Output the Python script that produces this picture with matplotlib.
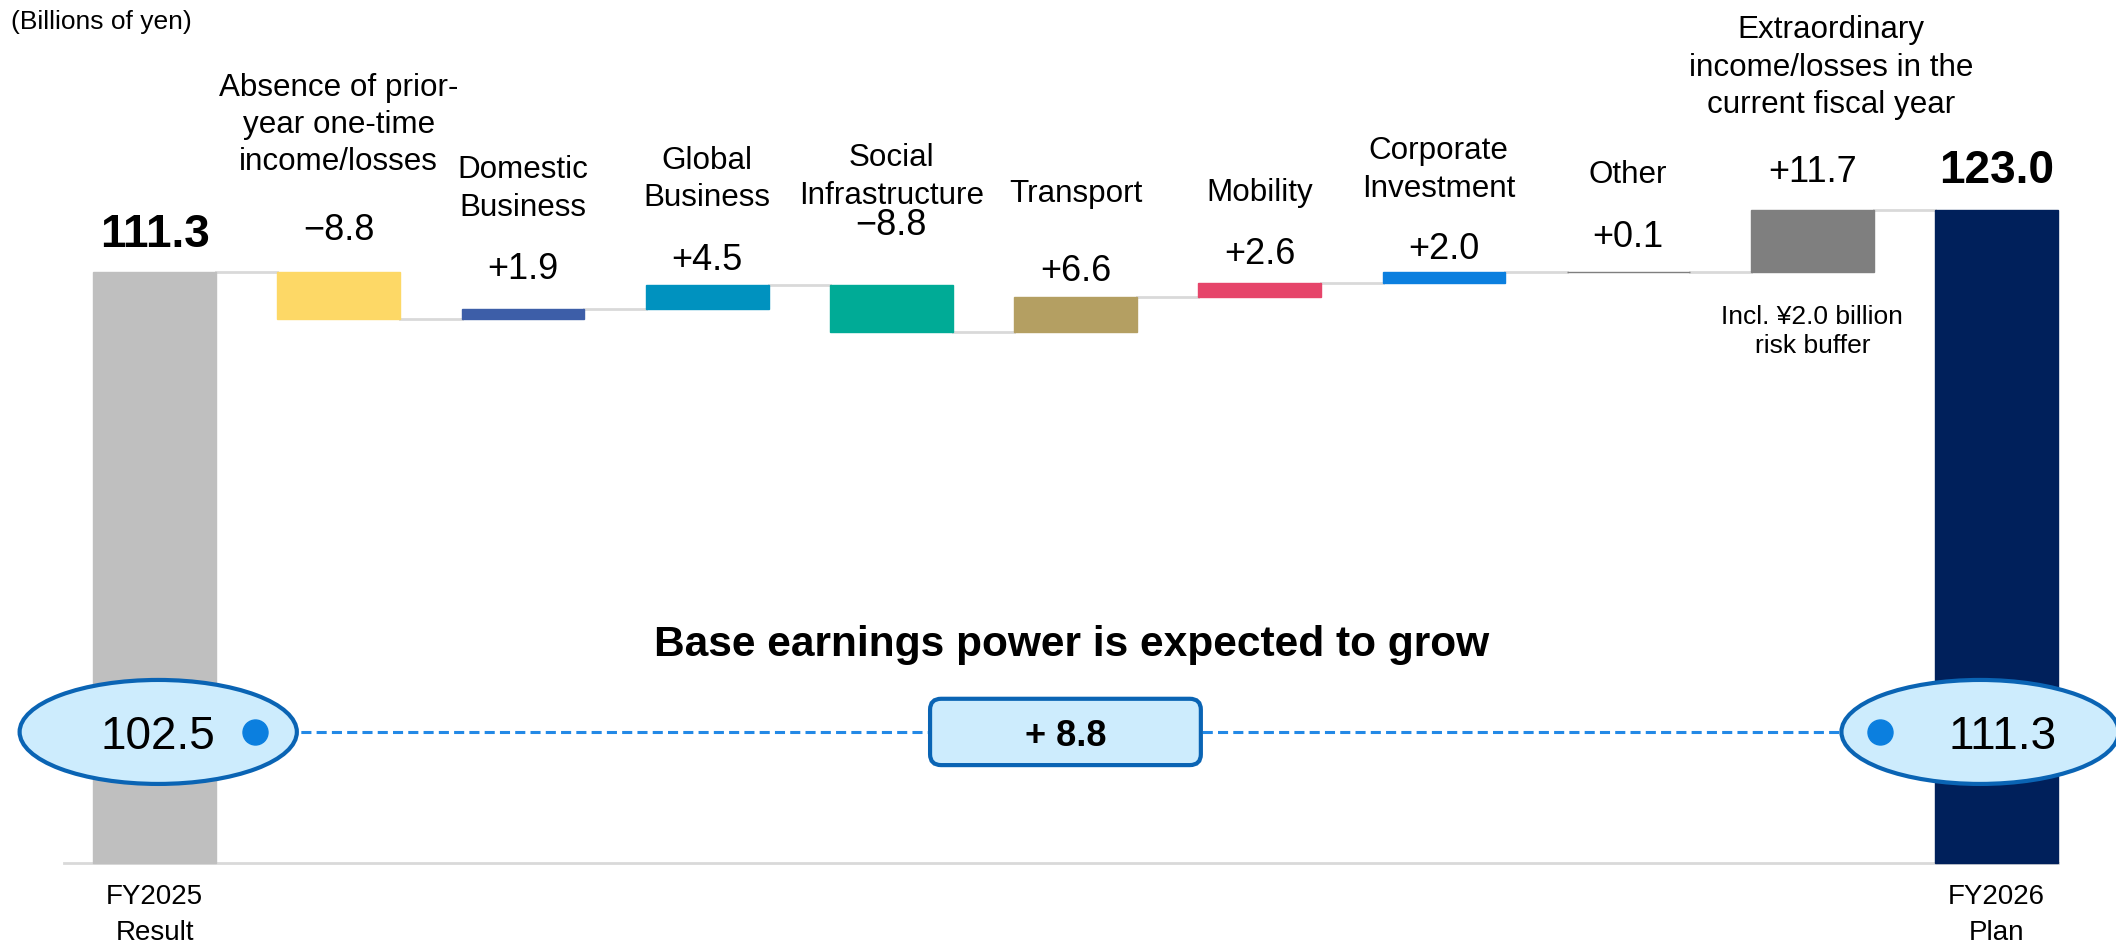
import matplotlib.pyplot as plt
import numpy as np
from matplotlib.patches import Ellipse, FancyBboxPatch

plt.rcParams['font.family'] = ['Liberation Sans', 'DejaVu Sans']

# --- data ---
start_label = "FY2025\nResult"
end_label = "FY2026\nPlan"
start_value = 111.3
end_value = 123.0
step_names = ["Absence of prior-\nyear one-time\nincome/losses",
              "Domestic\nBusiness",
              "Global\nBusiness",
              "Social\nInfrastructure",
              "Transport",
              "Mobility",
              "Corporate\nInvestment",
              "Other",
              "Extraordinary\nincome/losses in the\ncurrent fiscal year"]
step_changes = [-8.8, 1.9, 4.5, -8.8, 6.6, 2.6, 2.0, 0.1, 11.7]
base_before = 102.5
base_after = 111.3
note_text = "Incl. ¥2.0 billion\nrisk buffer"
unit_text = "(Billions of yen)"
headline = "Base earnings power is expected to grow"

# --- styles / layout ---
bar_colors = ["#bfbfbf", "#fdd866", "#3d5ea8", "#0092bf", "#00ab96", "#b49f62",
              "#e6456a", "#0b7fdf", "#7f7f7f", "#7f7f7f", "#00205b"]
value_label_y = [118.6, 119.4, 112.1, 113.8, 120.3, 111.6, 114.9, 115.9, 118.0, 130.3, 130.6]
name_label_y = [139.3, 127.2, 129.0, 129.5, 126.2, 126.5, 130.8, 129.8, 150.1]
name_label_dx = [0, 0, 0, 0, 0, 0, -0.03, 0, 0.1]
bar_w = 0.667
line_grey = "#d9d9d9"
oval_fill = "#cdecfd"
oval_edge = "#0a64b4"
dot_blue = "#0b7fdf"
dash_blue = "#2389e6"
base_y = 24.7


def fmt(v):
    return f"{v:+.1f}".replace("-", "\u2212")


fig = plt.figure(figsize=(21.16, 9.45), dpi=100)
ax = fig.add_axes([0, 0, 1, 1])
ax.set_xlim(-0.839, 10.648)
ax.set_ylim(-15.27, 162.85)
ax.axis("off")

# waterfall geometry
changes = np.array(step_changes)
running = start_value + np.cumsum(changes)
prev = np.concatenate([[start_value], running[:-1]])
bottoms = np.concatenate([[0], np.minimum(prev, running), [0]])
heights = np.concatenate([[start_value], np.abs(changes), [end_value]])
x = np.arange(len(heights))

ax.bar(x, heights, bottom=bottoms, width=bar_w, color=bar_colors,
       edgecolor=bar_colors, linewidth=1, zorder=2)

# connectors
levels = np.concatenate([[start_value], running])
for i, lv in enumerate(levels):
    ax.plot([x[i] + bar_w / 2, x[i + 1] - bar_w / 2], [lv, lv],
            color=line_grey, lw=2, zorder=1)

# baseline
ax.plot([x[0] - bar_w / 2 - 0.16, x[-1] + bar_w / 2], [0, 0],
        color=line_grey, lw=2, zorder=1)

# value labels
value_texts = [f"{start_value:.1f}"] + [fmt(v) for v in step_changes] + [f"{end_value:.1f}"]
for i, t in enumerate(value_texts):
    total = i in (0, len(x) - 1)
    ax.text(x[i], value_label_y[i], t, ha="center", va="center",
            fontsize=33 if total else 26, fontweight="bold" if total else "normal")

# category names
for i, name in enumerate(step_names):
    ax.text(x[i + 1] + name_label_dx[i], name_label_y[i], name, ha="center",
            va="center", fontsize=22.6, linespacing=1.32)

ax.text(x[-2], 100.3, note_text, ha="center", va="center", fontsize=19, linespacing=1.27)

for xi, lab in [(x[0], start_label), (x[-1], end_label)]:
    ax.text(xi, -9.6, lab, ha="center", va="center", fontsize=20, linespacing=1.48)

fig.text(8 / 1568, 1 - 16 / 700, unit_text, ha="left", va="center", fontsize=19)

# base earnings comparison
ax.text(4.98, 41.3, headline, ha="center", va="center", fontsize=30.6, fontweight="bold")

left_dot = x[0] + 0.547
right_dot = x[-1] - 0.634
ax.plot([left_dot, right_dot], [base_y, base_y], color=dash_blue, lw=2.2,
        dashes=(3.3, 1.7), zorder=3)

for cx in (x[0] + 0.02, x[-1] - 0.09):
    ax.add_patch(Ellipse((cx, base_y), 1.505, 19.6, facecolor=oval_fill,
                         edgecolor=oval_edge, lw=3, zorder=3))

ax.plot([left_dot, right_dot], [base_y, base_y], "o", color=dot_blue,
        markersize=18, zorder=5)
ax.text(x[0] + 0.02, base_y - 0.7, f"{base_before:.1f}", ha="center", va="center",
        fontsize=33, zorder=6)
ax.text(x[-1] + 0.03, base_y - 0.7, f"{base_after:.1f}", ha="center", va="center",
        fontsize=33, zorder=6)

box_w, box_h = 1.47, 12.5
box_cx = 4.945
ax.add_patch(FancyBboxPatch((box_cx - box_w / 2, base_y - box_h / 2), box_w, box_h,
                            boxstyle="round,pad=0,rounding_size=0.06",
                            mutation_aspect=34, facecolor=oval_fill,
                            edgecolor=oval_edge, lw=3, zorder=4))
ax.text(box_cx, base_y - 0.6, f"+ {base_after - base_before:.1f}", ha="center",
        va="center", fontsize=26, fontweight="bold", zorder=6)

fig.savefig("out.png", dpi=100)
